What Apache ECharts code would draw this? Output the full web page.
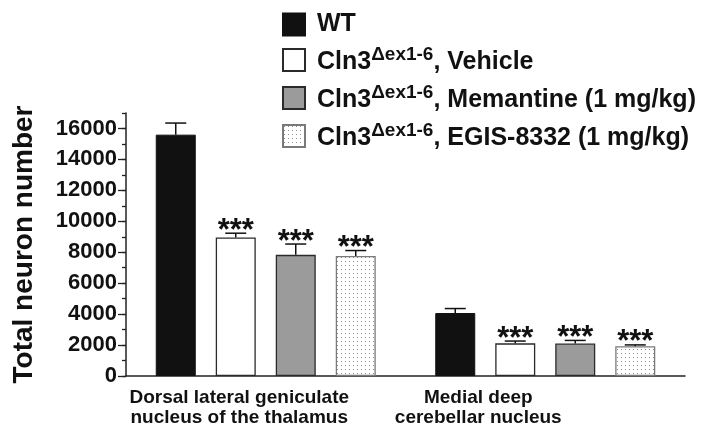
<!DOCTYPE html>
<html><head><meta charset="utf-8">
<script src="https://cdn.jsdelivr.net/npm/echarts@6/dist/echarts.min.js"></script>
<style>html,body{margin:0;padding:0;background:#fff}#c{width:714px;height:443px}</style>
</head><body><div id="c"></div>
<script>
const categories = ['Dorsal lateral geniculate\nnucleus of the thalamus', 'Medial deep\ncerebellar nucleus'];
const seriesNames = ['WT', 'Cln3 Vehicle', 'Cln3 Memantine', 'Cln3 EGIS-8332'];
const wtMean = [15600, 4070];
const wtSem = [750, 290];
const vehicleMean = [8950, 2110];
const vehicleSem = [280, 150];
const memantineMean = [7830, 2100];
const memantineSem = [700, 200];
const egisMean = [7760, 1920];
const egisSem = [350, 90];
const wtSig = ['', ''];
const vehicleSig = ['***', '***'];
const memantineSig = ['***', '***'];
const egisSig = ['***', '***'];
const yTickLabels = [0, 2000, 4000, 6000, 8000, 10000, 12000, 14000, 16000];
const yMax = 17000;

const FONT = '"Liberation Sans", Arial, Helvetica, sans-serif';
const BAR_W = 40, BAR_GAP = 20;
const LABEL_PAD_RIGHT = [53, 134];

const pc = document.createElement('canvas');
pc.width = 4; pc.height = 4;
const pctx = pc.getContext('2d');
pctx.fillStyle = '#ffffff'; pctx.fillRect(0, 0, 4, 4);
pctx.fillStyle = '#8c8c8c'; pctx.fillRect(1, 1, 1, 1);
const dotPattern = { image: pc, repeat: 'repeat' };

const means = [wtMean, vehicleMean, memantineMean, egisMean];
const sems = [wtSem, vehicleSem, memantineSem, egisSem];
const sigs = [wtSig, vehicleSig, memantineSig, egisSig];
const styles = [
  { color: '#111111', borderColor: '#111111', borderWidth: 1 },
  { color: '#ffffff', borderColor: '#2a2a2a', borderWidth: 1.3 },
  { color: '#9b9b9b', borderColor: '#2a2a2a', borderWidth: 1.3 },
  { color: dotPattern, borderColor: '#7a7a7a', borderWidth: 1.3 }
];

const errData = [];
const errSig = [];
for (let g = 0; g < 4; g++) {
  for (let c = 0; c < categories.length; c++) {
    errData.push([c, means[g][c], sems[g][c], g]);
    errSig.push(sigs[g][c]);
  }
}

const barSeries = seriesNames.map((n, g) => ({
  name: n, type: 'bar', data: means[g], barWidth: BAR_W, barGap: '50%',
  itemStyle: styles[g], silent: true
}));

const legendFmt = {
  'WT': '{w|WT}',
  'Cln3 Vehicle': '{p|Cln3}{s|\u0394ex1-6}{n|, Vehicle}',
  'Cln3 Memantine': '{p|Cln3}{s|\u0394ex1-6}{n|, Memantine (1 mg/kg)}',
  'Cln3 EGIS-8332': '{p|Cln3}{s|\u0394ex1-6}{n|, EGIS-8332 (1 mg/kg)}'
};

const chart = echarts.init(document.getElementById('c'));
chart.setOption({
  animation: false,
  backgroundColor: '#ffffff',
  textStyle: { fontFamily: FONT },
  grid: { left: 126, right: 29, top: 113, bottom: 67 },
  legend: {
    orient: 'vertical', left: 282, top: 12, itemWidth: 22, itemHeight: 22, itemGap: 8,
    icon: 'rect', selectedMode: false, padding: 0,
    data: seriesNames,
    formatter: n => legendFmt[n],
    textStyle: {
      fontFamily: FONT, fontSize: 25, fontWeight: 'bold', color: '#111',
      rich: {
        w: { fontFamily: FONT, fontSize: 25, fontWeight: 'bold', color: '#111', lineHeight: 22, padding: [0, 0, 0, 7] },
        p: { fontFamily: FONT, fontSize: 25, fontWeight: 'bold', color: '#111', lineHeight: 30, verticalAlign: 'bottom', padding: [0, 0, 0, 7] },
        n: { fontFamily: FONT, fontSize: 25, fontWeight: 'bold', color: '#111', lineHeight: 30, verticalAlign: 'bottom' },
        s: { fontFamily: FONT, fontSize: 19, fontWeight: 'bold', color: '#111', lineHeight: 30, verticalAlign: 'top' }
      }
    }
  },
  xAxis: {
    type: 'category',
    data: categories.map((c, i) => ({ value: c, textStyle: { padding: [0, LABEL_PAD_RIGHT[i], 0, 0] } })),
    axisLine: { lineStyle: { color: '#222', width: 1.5 } },
    axisTick: { show: false },
    axisLabel: { interval: 0, fontFamily: FONT, fontSize: 19, fontWeight: 'bold', color: '#111', lineHeight: 20, margin: 12 }
  },
  yAxis: [{
    type: 'value', min: 0, max: yMax, interval: 1000, position: 'left',
    name: 'Total neuron number', nameLocation: 'middle', nameGap: 88,
    nameTextStyle: { fontFamily: FONT, fontSize: 28, fontWeight: 'bold', color: '#111' },
    axisLine: { show: true, lineStyle: { color: '#222', width: 1.5 } },
    axisTick: { show: true, length: 4, lineStyle: { color: '#222', width: 1.3 } },
    axisLabel: {
      fontFamily: FONT, fontSize: 22, fontWeight: 'bold', color: '#111', margin: 9,
      formatter: v => (yTickLabels.indexOf(v) >= 0 ? String(v) : '')
    },
    splitLine: { show: false }
  }, {
    type: 'value', min: 0, max: yMax, interval: 2000, position: 'left',
    axisLine: { show: false },
    axisTick: { show: true, length: 8, customValues: yTickLabels, lineStyle: { color: '#222', width: 1.3 } },
    axisLabel: { show: false },
    splitLine: { show: false }
  }],
  series: barSeries.concat([{
    type: 'custom', name: 'err', silent: true, z: 5,
    encode: { x: 0, y: 1 },
    data: errData,
    renderItem: function (params, api) {
      const c = api.value(0), m = api.value(1), e = api.value(2), g = api.value(3);
      const p0 = api.coord([c, m]);
      const p1 = api.coord([c, m + e]);
      const x = p0[0] + (g - 1.5) * (BAR_W + BAR_GAP);
      const children = [
        { type: 'line', shape: { x1: x, y1: p0[1], x2: x, y2: p1[1] }, style: { stroke: '#111', lineWidth: 1.5 } },
        { type: 'line', shape: { x1: x - 10.5, y1: p1[1], x2: x + 10.5, y2: p1[1] }, style: { stroke: '#111', lineWidth: 1.5 } }
      ];
      const s = errSig[params.dataIndex];
      if (s) {
        children.push({ type: 'text', style: { text: s, x: x, y: p1[1] - 2, align: 'center', verticalAlign: 'middle',
          font: 'bold 31px ' + FONT, fill: '#111' } });
      }
      return { type: 'group', children: children };
    }
  }])
});
</script></body></html>
